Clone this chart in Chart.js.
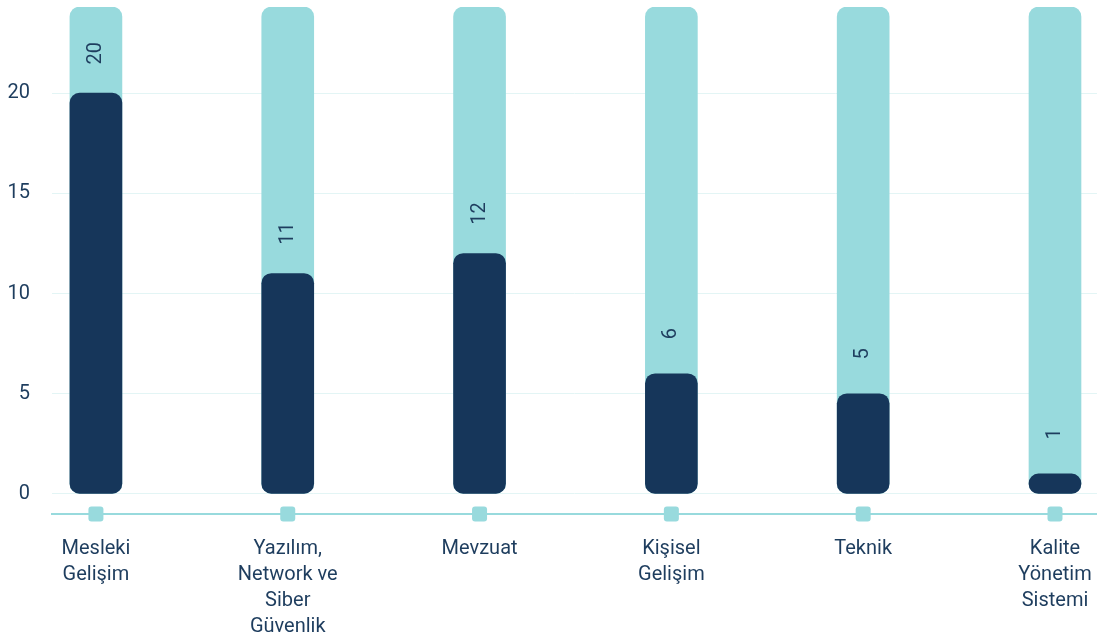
<!DOCTYPE html>
<html>
<head>
<meta charset="utf-8">
<script src="https://cdn.jsdelivr.net/npm/chart.js@4"></script>
<style>
  html, body { margin: 0; padding: 0; background: #fff; }
  #wrap { width: 1097px; height: 638px; }
</style>
</head>
<body>
<div id="wrap"><canvas id="trainingChart" width="1097" height="638"></canvas></div>
<script>
// categories, broken into lines as they appear under the axis
const categories = [
    ["Mesleki", "Gelişim"],
    ["Yazılım,", "Network ve", "Siber", "Güvenlik"],
    ["Mevzuat"],
    ["Kişisel", "Gelişim"],
    ["Teknik"],
    ["Kalite", "Yönetim", "Sistemi"]
];
const counts = [20, 11, 12, 6, 5, 1];
const fullBar = [24.3, 24.3, 24.3, 24.3, 24.3, 24.3];
const yTicks = [0, 5, 10, 15, 20];

const navy = "#16365a";
const teal = "#98dadd";
const textColor = "#1e3d5e";
const fontFamily = "Roboto";

// rotated value labels above the dark bars
const valueLabels = {
    id: "valueLabels",
    afterDatasetsDraw(chart) {
        const ctx = chart.ctx;
        const meta = chart.getDatasetMeta(0);
        ctx.save();
        ctx.fillStyle = textColor;
        ctx.font = `20px ${fontFamily}`;
        ctx.textAlign = "center";
        ctx.textBaseline = "middle";
        meta.data.forEach((bar, i) => {
            ctx.save();
            ctx.translate(bar.x, bar.y - 40);
            ctx.rotate(-Math.PI / 2);
            ctx.fillText(String(counts[i]), 0, 0);
            ctx.restore();
        });
        ctx.restore();
    }
};

// small squares on the x axis under each bar
const axisMarkers = {
    id: "axisMarkers",
    afterDraw(chart) {
        const ctx = chart.ctx;
        const xScale = chart.scales.x;
        const y0 = chart.chartArea.bottom;
        ctx.save();
        ctx.fillStyle = teal;
        counts.forEach((_, i) => {
            const px = xScale.getPixelForValue(i);
            ctx.beginPath();
            ctx.roundRect(px - 7.5, y0 - 7.5, 15, 15, 3);
            ctx.fill();
        });
        ctx.restore();
    }
};

const ctx = document.getElementById("trainingChart").getContext("2d");
new Chart(ctx, {
    type: "bar",
    data: {
        datasets: [
            {
                data: counts.map((v, i) => ({ x: i, y: v })),
                backgroundColor: navy,
                order: 0
            },
            {
                data: fullBar.map((v, i) => ({ x: i, y: v })),
                backgroundColor: teal,
                order: 1
            }
        ]
    },
    options: {
        responsive: false,
        animation: false,
        layout: { padding: { top: 7, right: 0, left: 0, bottom: 0 } },
        datasets: {
            bar: {
                grouped: false,
                barThickness: 52,
                borderRadius: 10,
                borderSkipped: false
            }
        },
        plugins: {
            legend: { display: false },
            tooltip: { enabled: false }
        },
        scales: {
            x: {
                type: "linear",
                offset: false,
                min: -0.229,
                max: 5.219,
                afterFit: (scale) => {
                    scale.height = 124;
                    scale.paddingLeft = 0;
                    scale.paddingRight = 0;
                },
                grid: { display: true, drawOnChartArea: false, drawTicks: false },
                border: { display: true, color: teal, width: 2 },
                ticks: {
                    stepSize: 1,
                    includeBounds: false,
                    autoSkip: false,
                    maxRotation: 0,
                    padding: 22,
                    color: textColor,
                    font: { family: fontFamily, size: 20, lineHeight: 1.3 },
                    callback: (v) => Number.isInteger(v) && categories[v] ? categories[v] : ""
                }
            },
            y: {
                min: -1,
                max: 24.3,
                afterBuildTicks: (scale) => {
                    scale.ticks = yTicks.map((v) => ({ value: v }));
                },
                afterFit: (scale) => {
                    scale.width = 52;
                    scale.paddingTop = 0;
                    scale.paddingBottom = 0;
                },
                grid: { color: "#e3f5f5", drawTicks: false },
                border: { display: false },
                ticks: {
                    padding: 22,
                    color: textColor,
                    font: { family: fontFamily, size: 20 }
                }
            }
        }
    },
    plugins: [valueLabels, axisMarkers]
});
</script>
</body>
</html>
